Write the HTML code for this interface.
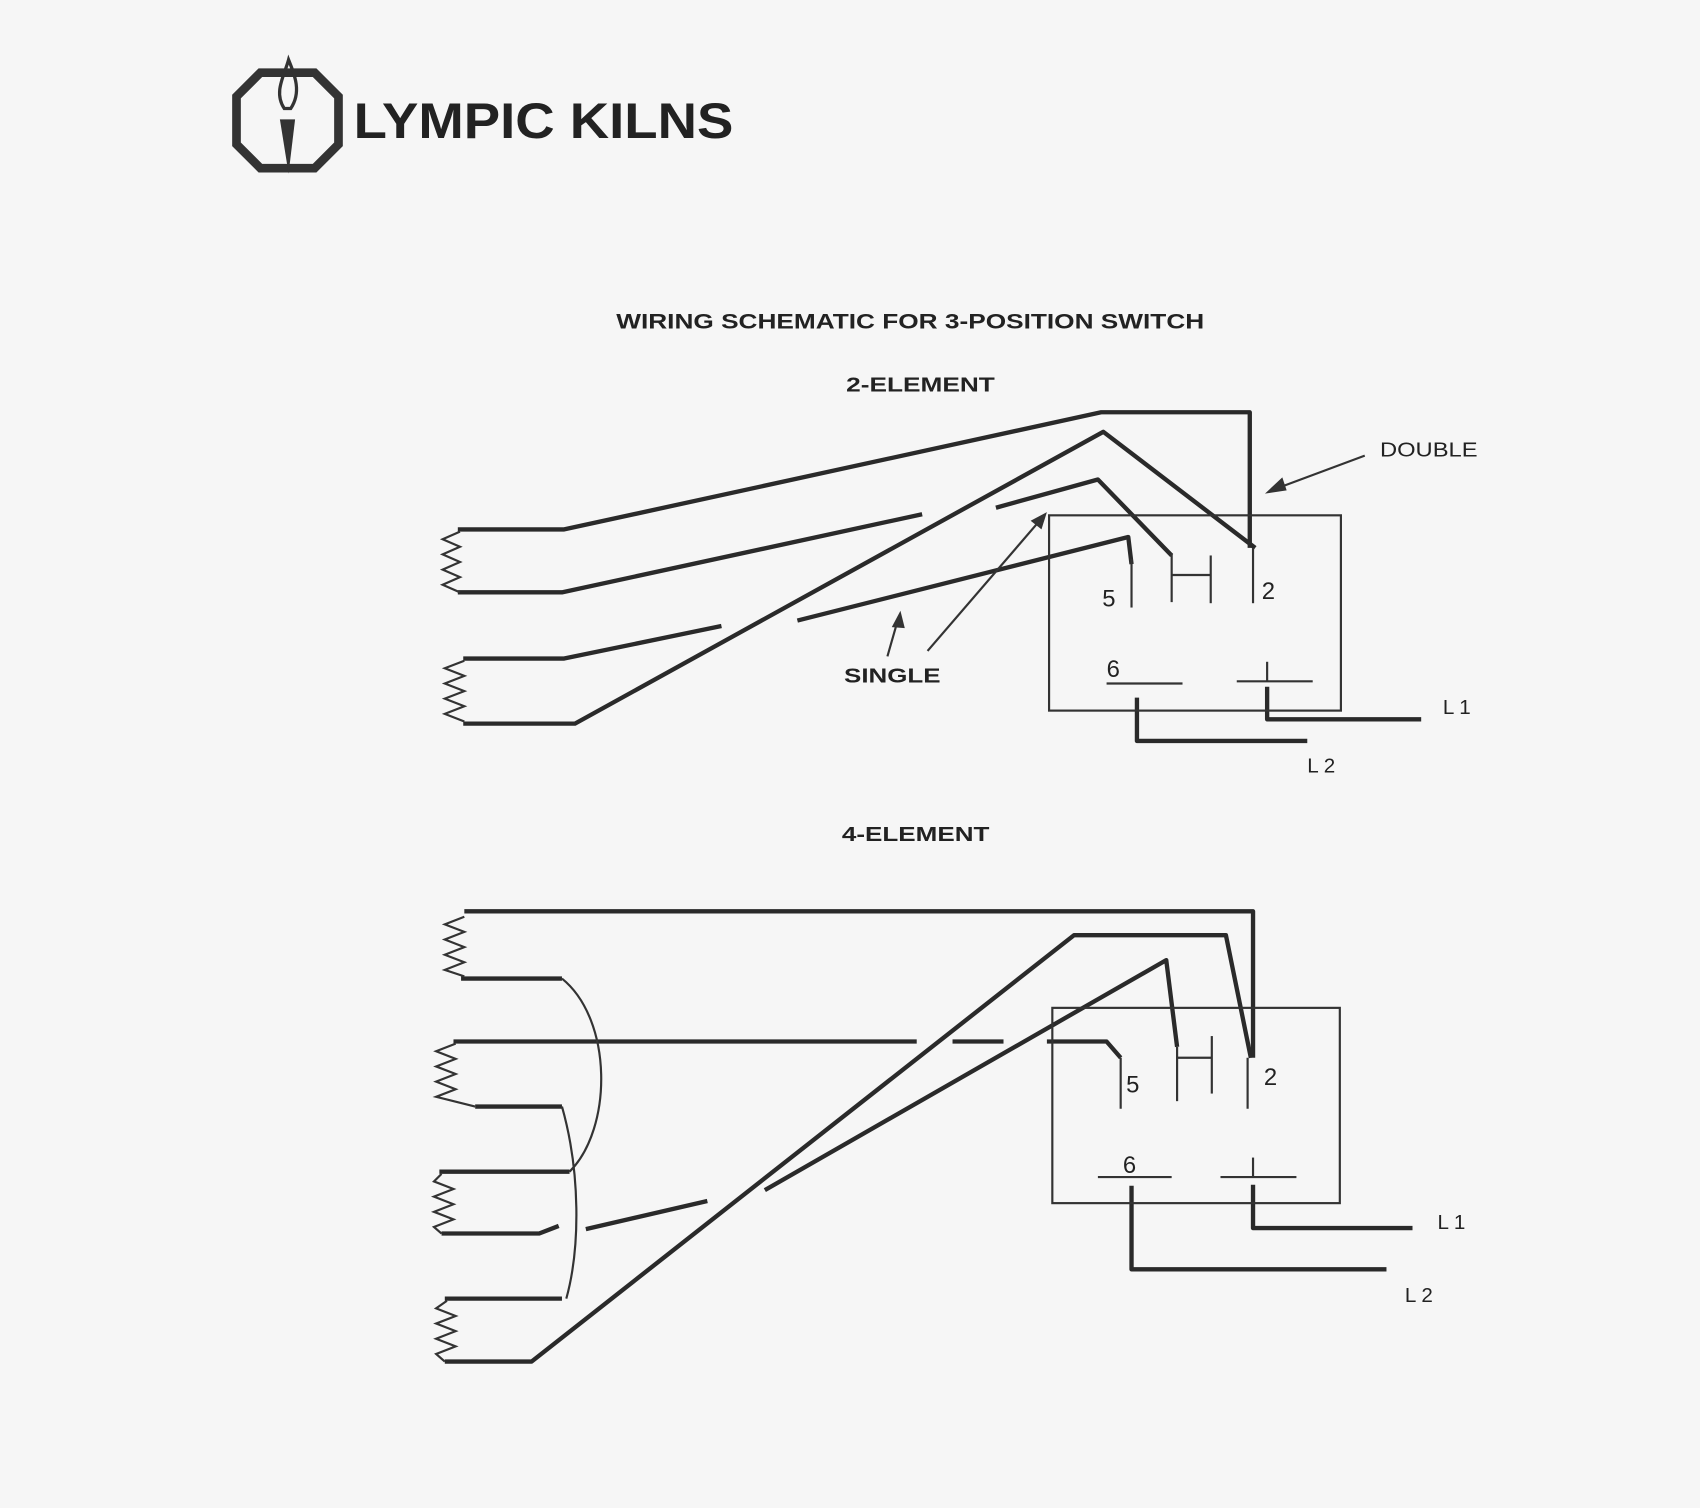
<!DOCTYPE html>
<html><head><meta charset="utf-8"><style>
html,body{margin:0;padding:0;background:#f6f6f6;}
svg{display:block}
text{font-family:"Liberation Sans",sans-serif;fill:#222}
</style></head><body>
<svg width="1700" height="1508" viewBox="0 0 1567 1390" xmlns="http://www.w3.org/2000/svg">
<rect width="1567" height="1390" fill="#f6f6f6"/>
<!-- logo -->
<polygon points="240,67 290,67 312,89 312,133 290,155 240,155 218,133 218,89" fill="none" stroke="#333" stroke-width="8"/>
<path d="M258,110 L272,110 L266,160 Z" fill="#333"/>
<path d="M262,100 C252,85 262,70 266,55 C272,70 278,85 268,100 Z" fill="none" stroke="#333" stroke-width="3"/>
<text x="326" y="127" font-size="46" font-weight="bold" fill="#333" textLength="350" lengthAdjust="spacingAndGlyphs">LYMPIC KILNS</text>
<!-- titles -->
<text x="568" y="303" font-size="20" font-weight="bold" fill="#333" textLength="542" lengthAdjust="spacingAndGlyphs">WIRING SCHEMATIC FOR 3-POSITION SWITCH</text>
<text x="780" y="361" font-size="19" font-weight="bold" fill="#333" textLength="137" lengthAdjust="spacingAndGlyphs">2-ELEMENT</text>
<text x="776" y="775" font-size="19" font-weight="bold" fill="#333" textLength="136" lengthAdjust="spacingAndGlyphs">4-ELEMENT</text>
<g fill="none" stroke="#2a2a2a" stroke-width="4" stroke-linejoin="round">
<!-- 2-element -->
<polyline points="422,488 520,488 1015,380 1152,380 1152,505"/>
<polyline points="422,546 518,546 850,474"/>
<polyline points="918,468 1012,442 1080,512"/>
<polyline points="427,607 520,607 665,577"/>
<polyline points="735,572 1040,495 1043,520"/>
<polyline points="427,667 530,667 1017,398 1157,505"/>
<polyline points="1048,643 1048,683 1205,683"/>
<polyline points="1168,633 1168,663 1310,663"/>
<!-- 4-element -->
<polyline points="428,840 1155,840 1155,975"/>
<polyline points="425,902 518,902"/>
<polyline points="418,960 845,960"/>
<polyline points="878,960 925,960"/>
<polyline points="965,960 1020,960 1033,975"/>
<polyline points="438,1020 518,1020"/>
<polyline points="405,1080 525,1080"/>
<polyline points="407,1137 497,1137 515,1130"/>
<polyline points="540,1133 652,1107"/>
<polyline points="410,1197 518,1197"/>
<polyline points="410,1255 490,1255 990,862 1130,862 1153,975"/>
<polyline points="705,1097 1075,885 1085,965"/>
<polyline points="1043,1093 1043,1170 1278,1170"/>
<polyline points="1155,1092 1155,1132 1302,1132"/>
</g>
<g fill="none" stroke="#333" stroke-width="2">
<path d="M424,490 L408,497 L424,504 L408,511 L424,518 L408,525 L424,532 L408,539 L424,546"/>
<path d="M428,609 L410,616 L428,623 L410,630 L428,637 L410,644 L428,651 L410,658 L428,665"/>
<path d="M428,845 L410,852 L428,859 L410,866 L428,873 L410,880 L428,887 L410,894 L428,900"/>
<path d="M420,962 L402,969 L420,976 L402,983 L420,990 L402,997 L420,1004 L402,1011 L438,1020"/>
<path d="M407,1082 L400,1089 L418,1096 L400,1103 L418,1110 L400,1117 L418,1124 L400,1131 L407,1137"/>
<path d="M412,1199 L402,1206 L420,1213 L402,1220 L420,1227 L402,1234 L420,1241 L402,1248 L410,1255"/>
<path d="M518,902 C565,940 565,1040 525,1080"/>
<path d="M518,1020 C535,1080 535,1150 522,1197"/>
<rect x="967" y="475" width="269" height="180"/>
<rect x="970" y="929" width="265" height="180"/>
<line x1="1043" y1="515" x2="1043" y2="560"/>
<line x1="1080" y1="510" x2="1080" y2="555"/>
<line x1="1080" y1="530" x2="1116" y2="530"/>
<line x1="1116" y1="512" x2="1116" y2="556"/>
<line x1="1155" y1="505" x2="1155" y2="556"/>
<line x1="1020" y1="630" x2="1090" y2="630"/>
<line x1="1140" y1="628" x2="1210" y2="628"/>
<line x1="1168" y1="610" x2="1168" y2="628"/>
<line x1="1033" y1="975" x2="1033" y2="1022"/>
<line x1="1085" y1="965" x2="1085" y2="1015"/>
<line x1="1085" y1="975" x2="1117" y2="975"/>
<line x1="1117" y1="955" x2="1117" y2="1008"/>
<line x1="1150" y1="975" x2="1150" y2="1022"/>
<line x1="1012" y1="1085" x2="1080" y2="1085"/>
<line x1="1125" y1="1085" x2="1195" y2="1085"/>
<line x1="1155" y1="1067" x2="1155" y2="1085"/>
<line x1="1258" y1="420" x2="1172" y2="452"/>
<line x1="818" y1="605" x2="828" y2="570"/>
<line x1="855" y1="600" x2="960" y2="478"/>
</g>
<g fill="#333">
<polygon points="1166,455 1182,440 1186,452"/>
<polygon points="830,563 822,578 834,579"/>
<polygon points="965,472 950,480 960,488"/>
</g>
<g font-size="22" fill="#222">
<text x="1016" y="559">5</text>
<text x="1163" y="552">2</text>
<text x="1020" y="624">6</text>
<text x="1038" y="1007">5</text>
<text x="1165" y="1000">2</text>
<text x="1035" y="1081">6</text>
</g>
<g font-size="19" fill="#333">
<text x="1272" y="421" textLength="90" lengthAdjust="spacingAndGlyphs">DOUBLE</text>
<text x="778" y="629" font-weight="bold" textLength="89" lengthAdjust="spacingAndGlyphs">SINGLE</text>
<text x="1330" y="658">L 1</text>
<text x="1205" y="712">L 2</text>
<text x="1325" y="1133">L 1</text>
<text x="1295" y="1200">L 2</text>
</g>
</svg>
</body></html>
